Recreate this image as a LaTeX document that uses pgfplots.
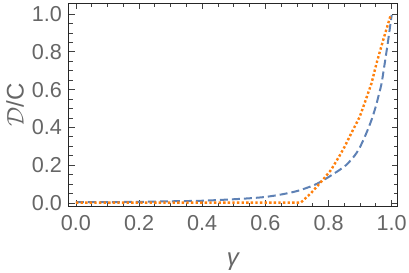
\documentclass[border=0pt]{standalone}
\usepackage{fontspec}
\setmainfont{Liberation Sans}
\usepackage{pgfplots}
\pgfplotsset{compat=1.18}
\definecolor{mblue}{rgb}{0.368417,0.506779,0.709798}
\definecolor{morange}{rgb}{1.0,0.5,0.05}
\definecolor{tgray}{gray}{0.4}
\begin{document}
\begin{tikzpicture}
\useasboundingbox (0,0) rectangle (204.5pt,136.5pt);
\begin{axis}[
  at={(34.5pt,33.25pt)}, anchor=south west,
  scale only axis, width=164.5pt, height=101.5pt,
  xmin=-0.022, xmax=1.02, ymin=-0.0185, ymax=1.056,
  xtick={0,0.2,0.4,0.6,0.8,1.0}, ytick={0,0.2,0.4,0.6,0.8,1.0},
  minor tick num=3,
  /pgf/number format/.cd, fixed, fixed zerofill, precision=1, assume math mode=true,
  /pgfplots/.cd,
  tick align=inside,
  major tick length=3pt, minor tick length=1.8pt,
  tick style={black!75, line width=0.4pt},
  axis line style={black!85, line width=0.5pt},
  tick label style={font=\fontsize{10.8}{12}\selectfont, text=tgray},
  xticklabel style={yshift=-0.8pt},
  every axis y label/.style={at={(axis description cs:-0.164,0.5)}, rotate=90, anchor=center, font=\fontsize{12}{14}\selectfont, text=tgray},
  every axis x label/.style={at={(axis description cs:0.5,-0.273)}, anchor=center, font=\fontsize{12}{14}\selectfont, text=tgray},
  xlabel={\textit{γ}},
  ylabel={$\mathcal{D}$/C},
]
\addplot[mblue, line width=1pt, dash pattern=on 4pt off 2pt, smooth, tension=0.4] coordinates {
(0,0.005) (0.1,0.005) (0.2,0.006) (0.3,0.009) (0.4,0.012) (0.49,0.019) (0.55,0.025) (0.6,0.032) (0.65,0.045) (0.7,0.063) (0.755,0.095) (0.793,0.13) (0.835,0.175) (0.856,0.201) (0.875,0.235) (0.888,0.263) (0.9,0.297) (0.915,0.351) (0.926,0.395) (0.936,0.439) (0.945,0.485) (0.952,0.525) (0.96,0.578) (0.968,0.633) (0.978,0.739) (0.989,0.862) (1.0,0.995)
};
\addplot[morange, line width=1.2pt, dash pattern=on 1.2pt off 1.1pt] coordinates {
(0,0.002) (0.2,0.002) (0.4,0.002) (0.6,0.002) (0.712,0.002) (0.745,0.053) (0.777,0.113) (0.808,0.175) (0.835,0.25) (0.851,0.298) (0.872,0.369) (0.899,0.457) (0.915,0.532) (0.936,0.633) (0.952,0.739) (0.973,0.862) (0.997,0.995)
};
\end{axis}
\end{tikzpicture}
\end{document}
